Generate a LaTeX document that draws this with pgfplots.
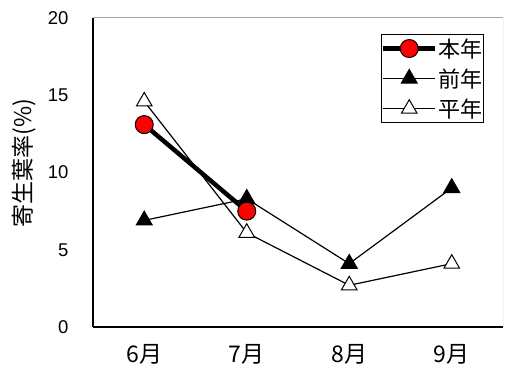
\documentclass[border=0pt]{standalone}
\usepackage{fontspec}
\setmainfont{Noto Sans CJK JP}
\newfontfamily\arialfont{Liberation Sans}
\usepackage{pgfplots}
\pgfplotsset{compat=1.18}

% 寄生葉率 (%) by month
\pgfplotstableread{
x y
1 13.1
2 7.5
}\honnen
\pgfplotstableread{
x y
1 6.9
2 8.3
3 4.1
4 9.0
}\zennen
\pgfplotstableread{
x y
1 14.6
2 6.1
3 2.7
4 4.1
}\heinen

\newcommand\bigfont{\fontsize{23bp}{27bp}\selectfont}
\newcommand\numfont{\arialfont\fontsize{18.5bp}{22bp}\selectfont}

\begin{document}
\begin{tikzpicture}
\begin{axis}[
    scale only axis,
    width=410bp, height=309bp,
    xmin=0.5, xmax=4.5, ymin=0, ymax=20,
    axis x line*=bottom, axis y line*=left,
    axis line style={black, line width=1.3bp, -},
    xtick={1,2,3,4}, xticklabels={6月,7月,8月,9月},
    xtick style={draw=none},
    extra x ticks={1.5,2.5,3.5}, extra x tick labels={},
    extra x tick style={tick style={draw=black, line width=1bp}, major tick length=6bp, tick align=inside},
    ytick={0,5,...,20}, ytick style={draw=none},
    major tick length=0pt,
    /pgf/number format/assume math mode=true,
    xticklabel style={font=\bigfont, yshift=-14bp},
    yticklabel style={font=\numfont, xshift=-21bp},
    label style={font=\bigfont},
    ylabel={寄生葉率(\%)},
    ylabel style={at={(axis description cs:-0.168,0.53)}, anchor=center},
    legend cell align=left,
    reverse legend,
    legend style={at={(1,1)}, anchor=north east, xshift=-19bp, yshift=-16bp,
        draw=black, line width=1bp, inner xsep=0bp, inner ysep=4bp, row sep=10bp,
        nodes={inner xsep=1bp, inner ysep=0bp}, font=\fontsize{22bp}{26bp}\selectfont},
    legend image code/.code={\draw[mark repeat=2, mark phase=2, #1] plot coordinates {(0bp,0bp) (26bp,0bp) (52bp,0bp)};},
]
\addplot[black, line width=1.2bp, mark=triangle*, mark size=9bp,
    mark options={fill=white, draw=black, line width=1bp}] table {\heinen};
\addlegendentry{平年}
\addplot[black, line width=1.2bp, mark=triangle*, mark size=9bp,
    mark options={fill=black, draw=black}] table {\zennen};
\addlegendentry{前年}
\addplot[black, line width=4.5bp, mark=*, mark size=9bp,
    mark options={fill=red, draw=black, line width=1bp}] table {\honnen};
\addlegendentry{本年}
\draw[gray!70, line width=1bp] (rel axis cs:0,1) -- (rel axis cs:1,1) -- (rel axis cs:1,0);
\end{axis}
\pgfresetboundingbox
\path ([shift={(-93bp,-45bp)}]current axis.south west) rectangle ([shift={(7bp,18bp)}]current axis.north east);
\end{tikzpicture}
\end{document}
